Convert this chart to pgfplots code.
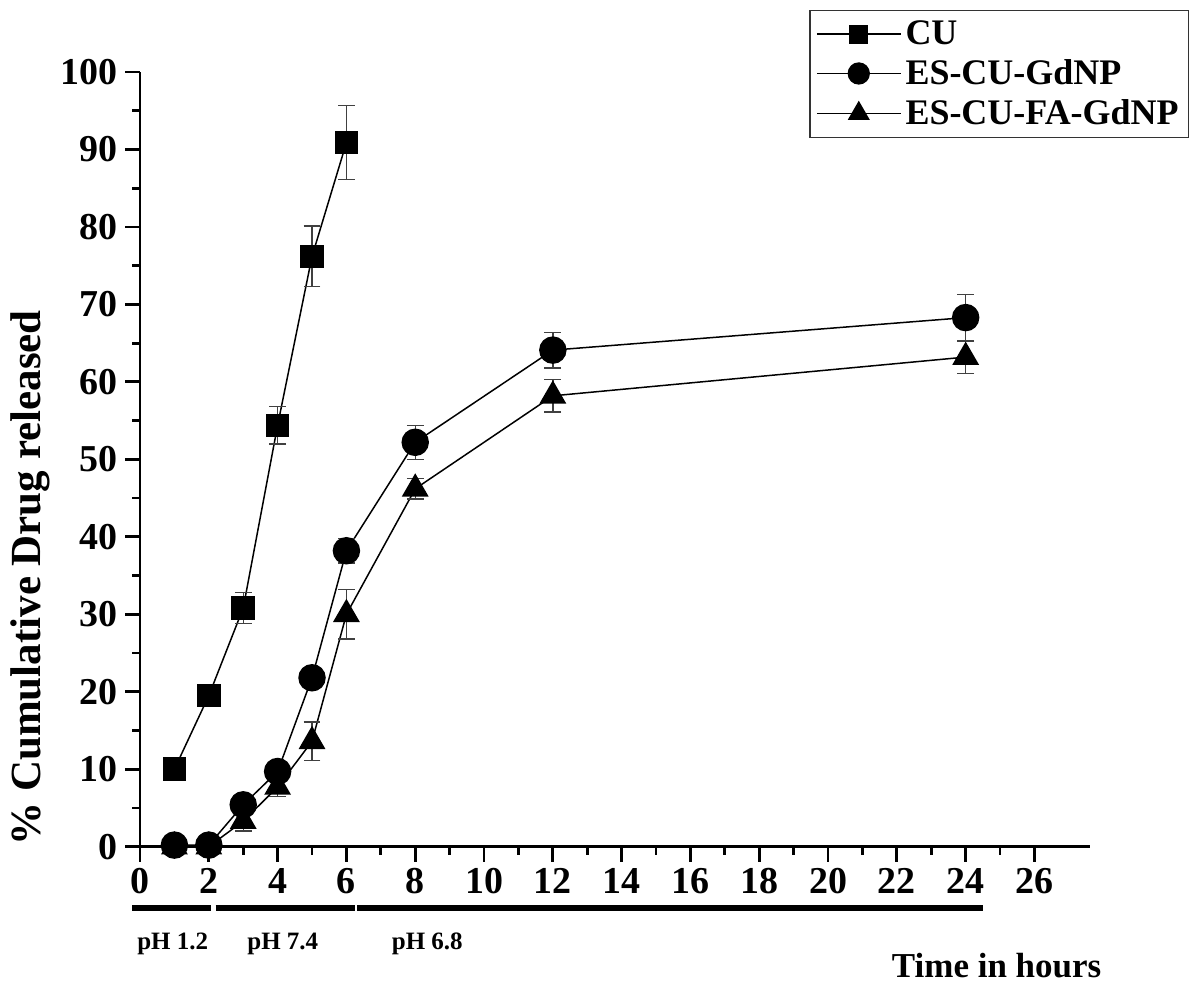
\documentclass[border=0pt]{standalone}
\usepackage{fontspec}
\setmainfont{Liberation Serif}
\usepackage{pgfplots}
\pgfplotsset{compat=1.18}

\begin{document}
\begin{tikzpicture}
\begin{axis}[
  scale only axis, width=475pt, height=387.5pt,
  xmin=0, xmax=27.6, ymin=0, ymax=100,
  axis lines=left, axis line style={-, line width=1.4pt},
  every tick/.style={black, line width=1.4pt},
  tick align=outside, major tick length=7.5pt, minor tick length=4pt,
  xtick={0,2,...,26}, ytick={0,10,...,100},
  minor x tick num=1, minor y tick num=1,
  tick label style={font=\fontsize{19}{22}\selectfont\bfseries},
  /pgf/number format/assume math mode=true,
  clip=false,
  legend style={at={(axis cs:30.5,108)}, anchor=north east,
    draw=black!80, line width=0.6pt,
    font=\fontsize{18}{21}\selectfont\bfseries,
    cells={anchor=west}, row sep=2pt, inner sep=3pt},
  legend image code/.code={\draw[mark repeat=2,mark phase=2,#1,
    every mark/.append style={scale=0.8}]
    plot coordinates {(0pt,0pt) (21pt,0pt) (42pt,0pt)};},
  error bars/error bar style={black!75, line width=0.7pt},
  error bars/error mark options={rotate=90, mark size=4.2pt, black!75, line width=0.7pt},
]
\addplot[black, line width=0.75pt, mark=square*,
  mark options={draw=black, fill=black, mark size=5.5pt},
  error bars/.cd, y dir=both, y explicit]
  coordinates {
  (1,10) +- (0,0.5)
  (2,19.5) +- (0,0.5)
  (3,30.8) +- (0,2)
  (4,54.4) +- (0,2.4)
  (5,76.2) +- (0,3.9)
  (6,90.9) +- (0,4.8)
};
\addlegendentry{CU}
\addplot[black, line width=0.75pt, mark=*,
  mark options={draw=black, fill=black, mark size=6.5pt},
  error bars/.cd, y dir=both, y explicit]
  coordinates {
  (1,0.2) +- (0,0.3)
  (2,0.2) +- (0,0.3)
  (3,5.4) +- (0,0.6)
  (4,9.7) +- (0,0.6)
  (5,21.8) +- (0,1.0)
  (6,38.2) +- (0,1.6)
  (8,52.2) +- (0,2.2)
  (12,64.1) +- (0,2.3)
  (24,68.3) +- (0,3.0)
};
\addlegendentry{ES-CU-GdNP}
\addplot[black, line width=0.75pt, mark=triangle*,
  mark options={draw=black, fill=black, mark size=7pt},
  error bars/.cd, y dir=both, y explicit]
  coordinates {
  (1,0) +- (0,0.3)
  (2,0) +- (0,0.3)
  (3,3.3) +- (0,1.3)
  (4,7.7) +- (0,1.2)
  (5,13.6) +- (0,2.5)
  (6,30.0) +- (0,3.2)
  (8,46.2) +- (0,1.3)
  (12,58.2) +- (0,2.1)
  (24,63.2) +- (0,2.1)
};
\addlegendentry{ES-CU-FA-GdNP}
% pH phase bars and labels
\draw[line width=3pt] (axis cs:-0.23,-7.9) -- (axis cs:2.06,-7.9);
\draw[line width=3pt] (axis cs:2.2,-7.9) -- (axis cs:6.25,-7.9);
\draw[line width=3pt] (axis cs:6.3,-7.9) -- (axis cs:24.5,-7.9);
\node[font=\fontsize{12.5}{15}\selectfont\bfseries] at (axis cs:0.95,-12.5) {pH 1.2};
\node[font=\fontsize{12.5}{15}\selectfont\bfseries] at (axis cs:4.15,-12.5) {pH 7.4};
\node[font=\fontsize{12.5}{15}\selectfont\bfseries] at (axis cs:8.35,-12.5) {pH 6.8};
\node[font=\fontsize{17.5}{20}\selectfont\bfseries] at (axis cs:24.9,-15.3) {Time in hours};
\node[rotate=90, font=\fontsize{21.5}{24}\selectfont\bfseries] at (axis cs:-3.2,34.7) {\% Cumulative Drug released};
\path (axis cs:-4.07,-19.0) rectangle (axis cs:30.87,109.3);
\end{axis}
\end{tikzpicture}
\end{document}
